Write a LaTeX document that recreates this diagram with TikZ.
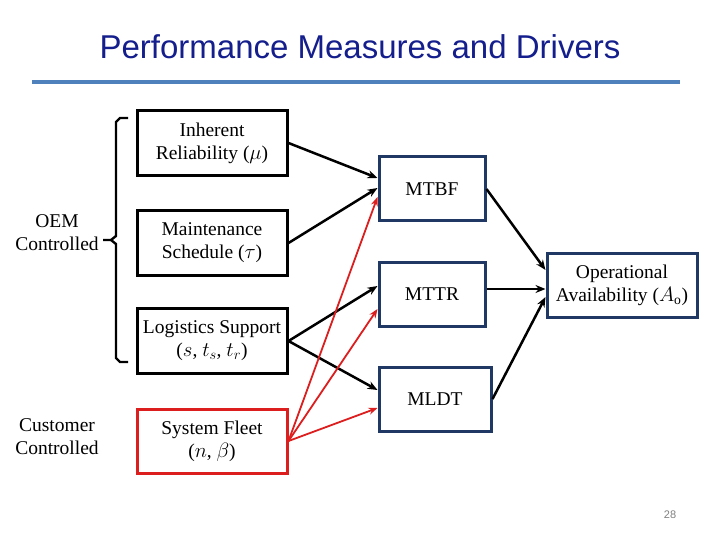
\documentclass[tikz,border=0pt]{standalone}
\usepackage{fontspec}
\setmainfont{Liberation Serif}
\newfontfamily\titlefont{Liberation Sans}
\usetikzlibrary{arrows.meta}
\definecolor{navy}{RGB}{31,56,100}
\definecolor{tblue}{RGB}{20,30,140}
\definecolor{rule}{RGB}{79,129,189}
\definecolor{tred}{RGB}{220,30,30}
\begin{document}
\begin{tikzpicture}[x=1pt,y=-1pt,
  box/.style={draw=black,line width=3pt,align=center,font=\fontsize{19.5}{23}\selectfont,inner sep=0pt},
  mbox/.style={draw=navy,line width=3pt,align=center,font=\fontsize{19.5}{23}\selectfont,inner sep=0pt},
  arr/.style={line width=2.5pt,-{Stealth[length=10pt,width=8pt]}},
  rarr/.style={line width=1.8pt,draw=tred,-{Stealth[length=9pt,width=7pt]}},
  lab/.style={align=center,font=\fontsize{19.5}{23}\selectfont}]
\useasboundingbox (0,0) rectangle (720,540);
\node[font=\titlefont\fontsize{33}{38}\selectfont,text=tblue] (title) at (360,47) {Performance Measures and Drivers};
\draw[rule,line width=4pt] (32,82) -- (680,82);
\node[box,minimum width=150pt,minimum height=65pt] (ir) at (212,143) {Inherent\\Reliability (\(\mu\))};
\node[box,minimum width=150pt,minimum height=65pt] (ms) at (212,243) {Maintenance\\Schedule (\(\tau\))};
\node[box,minimum width=150pt,minimum height=65pt] (ls) at (212,341) {Logistics Support\\(\(s\), \(t_s\), \(t_r\))};
\node[box,draw=tred,minimum width=150pt,minimum height=64pt] (sf) at (212,441) {System Fleet\\(\(n\), \(\beta\))};
\node[mbox,minimum width=106pt,minimum height=64pt] (mtbf) at (432,189) {MTBF};
\node[mbox,minimum width=106pt,minimum height=64pt] (mttr) at (432,294) {MTTR};
\node[mbox,minimum width=112pt,minimum height=64pt] (mldt) at (435,399) {MLDT};
\node[mbox,minimum width=150pt,minimum height=64pt] (oa) at (622,285) {Operational\\Availability (\(A_{\mathrm{o}}\))};
\node[lab] (oem) at (57,233) {OEM\\Controlled};
\node[lab] (cust) at (57,437) {Customer\\Controlled};
\draw[line width=2.4pt] (128,118) -- (120,118) -- (116,122) -- (116,236) -- (111,240) -- (103,240)
  (111,240) -- (116,244) -- (116,358) -- (120,362) -- (128,362);
\node[font=\titlefont\fontsize{11}{12}\selectfont,text=gray] (pg) at (670,515) {28};
\draw[arr] (ir.east) -- (mtbf.west |- 0,178);
\draw[arr] (ms.east) -- (mtbf.west |- 0,188);
\draw[arr] (ls.east) -- (mttr.west |- 0,286);
\draw[arr] (ls.east) -- (mldt.west |- 0,390);
\draw[rarr] (sf.east) -- (mtbf.west |- 0,197);
\draw[rarr] (sf.east) -- (mttr.west |- 0,309);
\draw[rarr] (sf.east) -- (mldt.west |- 0,408);
\draw[arr] (mtbf.east) -- (oa.west |- 0,270);
\draw[arr] (mttr.east |- 0,289) -- (oa.west |- 0,289);
\draw[arr] (mldt.east) -- (oa.west |- 0,297);
\end{tikzpicture}
\end{document}
